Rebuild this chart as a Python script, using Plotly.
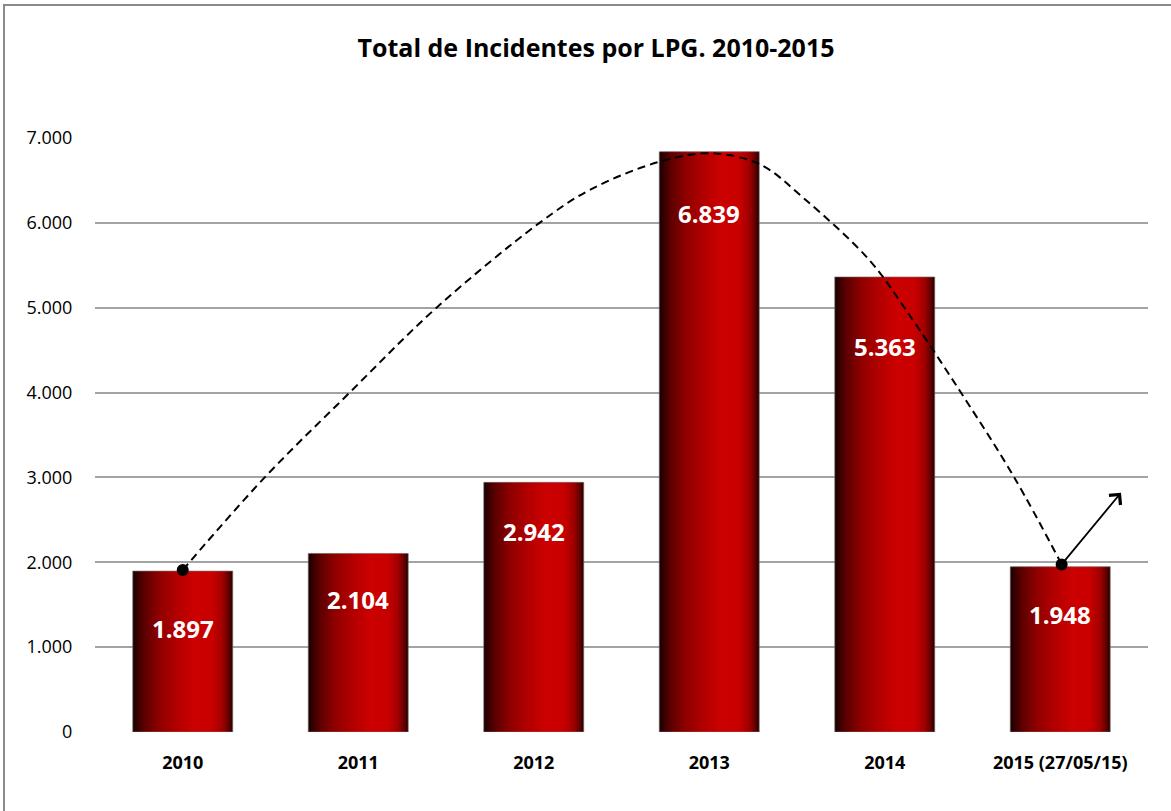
import plotly.graph_objects as go

# ---- data ----
categories = ["2010", "2011", "2012", "2013", "2014", "2015 (27/05/15)"]
incidents = [1897, 2104, 2942, 6839, 5363, 1948]
value_labels = ["1.897", "2.104", "2.942", "6.839", "5.363", "1.948"]
y_tickvals = [0, 1000, 2000, 3000, 4000, 5000, 6000, 7000]
y_ticktext = ["0", "1.000", "2.000", "3.000", "4.000", "5.000", "6.000", "7.000"]

# hand-drawn dashed trend curve: x in category index units
trend_x = [0.0, 0.467, 0.951, 1.446, 2.033, 2.318, 2.716, 3.0, 3.285, 3.55,
           3.912, 4.112, 4.434, 4.738, 5.008]
trend_y = [1909, 3000, 4000, 5000, 6000, 6387, 6720, 6819, 6693, 6269,
           5562, 5000, 4000, 3000, 1975]
dots_x = [0.0, 5.008]
dots_y = [1909, 1975]
arrow_tip = (5.346, 2820)

# ---- style ----
label_shift = [57, 46, 49, 62, 70, 48]
bar_w = 0.57
grad_stops = [
    (0.00, (26, 0, 0)),
    (0.10, (85, 0, 0)),
    (0.25, (140, 0, 0)),
    (0.45, (180, 0, 0)),
    (0.62, (204, 0, 0)),
    (0.80, (200, 0, 0)),
    (0.90, (160, 0, 0)),
    (0.96, (96, 0, 0)),
    (1.00, (40, 0, 0)),
]


def grad_color(t):
    for (t0, c0), (t1, c1) in zip(grad_stops[:-1], grad_stops[1:]):
        if t0 <= t <= t1:
            f = (t - t0) / (t1 - t0) if t1 > t0 else 0
            c = [round(a + (b - a) * f) for a, b in zip(c0, c1)]
            return f"rgb({c[0]},{c[1]},{c[2]})"
    c = grad_stops[-1][1]
    return f"rgb({c[0]},{c[1]},{c[2]})"


xs = list(range(len(categories)))
fig = go.Figure()

N = 40
step = bar_w / N
for i in range(N):
    t = (i + 0.5) / N
    w = step * (1.6 if i < N - 1 else 1.0)
    fig.add_trace(go.Bar(
        x=xs, y=incidents, width=[w] * len(xs), offset=-bar_w / 2 + i * step,
        marker=dict(color=grad_color(t), line=dict(width=0)),
        hoverinfo="skip", showlegend=False,
    ))

# thin outline of the bars
fig.add_trace(go.Bar(
    x=xs, y=incidents, width=[bar_w] * len(xs),
    marker=dict(color="rgba(0,0,0,0)", line=dict(color="rgba(120,120,120,0.6)", width=1)),
    hoverinfo="skip", showlegend=False,
))

fig.add_trace(go.Scatter(
    x=trend_x, y=trend_y, mode="lines",
    line=dict(color="black", width=2, dash="8px,5px", shape="spline", smoothing=1.0),
    hoverinfo="skip", showlegend=False,
))
fig.add_trace(go.Scatter(
    x=dots_x, y=dots_y, mode="markers",
    marker=dict(color="black", size=12),
    hoverinfo="skip", showlegend=False,
))

annotations = []
for x, v, lab, sh in zip(xs, incidents, value_labels, label_shift):
    annotations.append(dict(
        x=x, y=v, xref="x", yref="y", text=lab, showarrow=False,
        yshift=-sh, font=dict(family="Open Sans", size=24, color="white", weight="bold"),
    ))
annotations.append(dict(
    x=arrow_tip[0], y=arrow_tip[1], ax=dots_x[-1], ay=dots_y[-1],
    xref="x", yref="y", axref="x", ayref="y", text="", showarrow=True,
    arrowhead=4, arrowsize=1.6, arrowwidth=1.8, arrowcolor="black", standoff=0, startstandoff=0,
))

# frame
W, H = 1171, 811
L, R, T, B = 95, 23, 138, 79
pw, ph = W - L - R, H - T - B
fig.add_shape(
    type="rect", xref="paper", yref="paper",
    x0=(4 - L) / pw, x1=(W + 6 - L) / pw,
    y0=(H - B - (H + 6)) / ph, y1=(H - B - 5) / ph,
    line=dict(color="#8a8a8a", width=2), fillcolor="rgba(0,0,0,0)", layer="below",
)

fig.update_layout(
    width=W, height=H,
    margin=dict(l=L, r=R, t=T, b=B),
    paper_bgcolor="white", plot_bgcolor="white",
    barmode="overlay",
    title=dict(
        text="<b>Total de Incidentes por LPG. 2010-2015</b>",
        x=596 / W, xref="container", xanchor="center",
        y=1 - 48 / H, yref="container", yanchor="middle",
        font=dict(family="Open Sans", size=25, color="black"),
    ),
    annotations=annotations,
    xaxis=dict(
        range=[-0.5, 5.5], tickvals=xs, ticktext=[f"<b>{c}</b>" for c in categories],
        showgrid=False, zeroline=False, showline=False,
        ticks="outside", ticklen=0, ticklabelstandoff=14,
        tickfont=dict(family="Open Sans", size=18, color="black"),
    ),
    yaxis=dict(
        range=[0, 7000], tickvals=y_tickvals, ticktext=y_ticktext,
        showgrid=True, gridcolor="#a3a3a3", gridwidth=2,
        zeroline=False, showline=False,
        ticks="outside", ticklen=0, ticklabelstandoff=18,
        tickfont=dict(family="Open Sans", size=18, color="black"),
    ),
)

fig.write_html("out.html", config={"displayModeBar": False},
               post_script="document.body.style.margin='0px';")
